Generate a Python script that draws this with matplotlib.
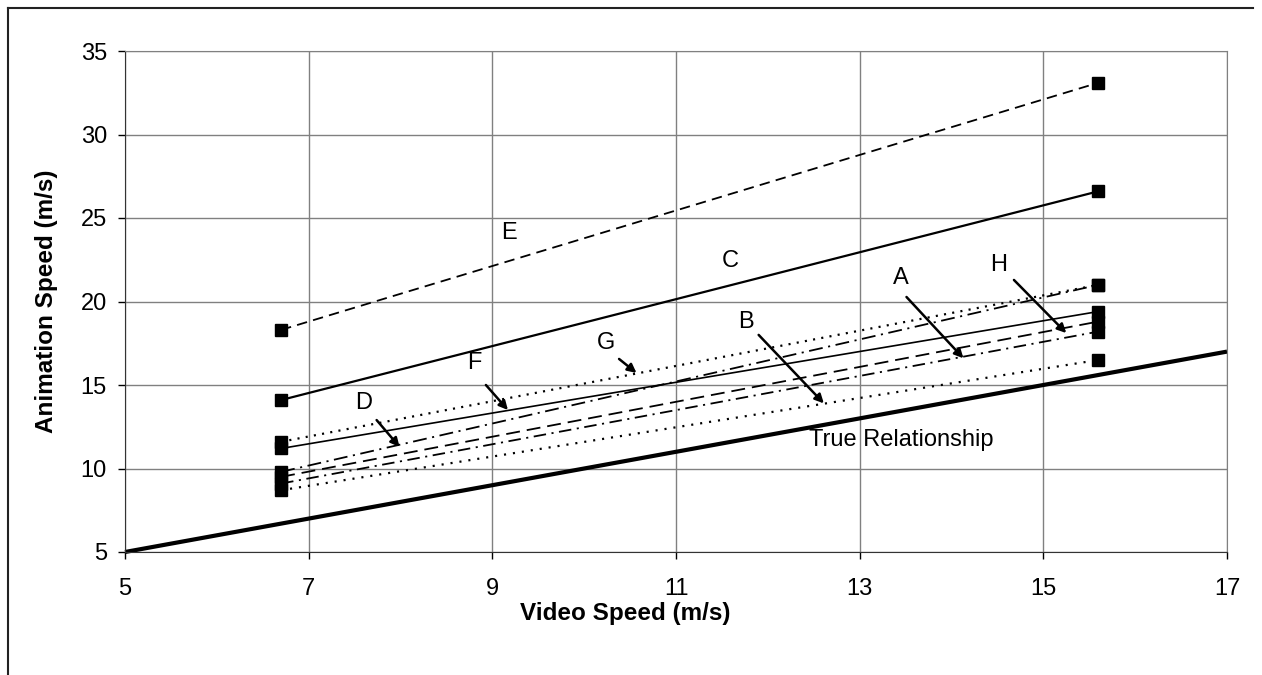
import matplotlib
matplotlib.use('Agg')
import matplotlib.pyplot as plt
from matplotlib.lines import Line2D

# Video speeds of the two test runs (m/s)
video_speed = [6.7, 15.6]

# Animation speed estimated by each participant at the two video speeds
series_names = ['A', 'B', 'C', 'D', 'E', 'F', 'G', 'H']
speed_low = [9.1, 8.7, 14.1, 9.8, 18.3, 11.2, 11.6, 9.5]
speed_high = [18.2, 16.5, 26.6, 21.0, 33.1, 19.4, 21.0, 18.8]

# True relationship, animation = video
true_speed = [5, 17]

x_ticks = [5, 7, 9, 11, 13, 15, 17]
y_ticks = [5, 10, 15, 20, 25, 30, 35]

plt.rcParams['font.family'] = ['Liberation Sans', 'DejaVu Sans']
plt.rcParams['lines.scale_dashes'] = False

# line style for every series (dash patterns in points)
styles = {
    'A': dict(lw=1.3, dashes=(9, 4, 1.5, 4)),
    'B': dict(lw=1.6, dashes=(1.5, 5)),
    'C': dict(lw=1.6, ls='-'),
    'D': dict(lw=1.3, dashes=(10, 4, 1.5, 4)),
    'E': dict(lw=1.3, dashes=(7.5, 4.5)),
    'F': dict(lw=1.2, ls='-'),
    'G': dict(lw=1.6, dashes=(1.5, 4.5)),
    'H': dict(lw=1.3, dashes=(10, 5)),
}

fig = plt.figure(figsize=(12.62, 6.75), dpi=100)
ax = fig.add_axes([125 / 1262, 1 - 552 / 675, 1102 / 1262, 501 / 675])

for i, name in enumerate(series_names):
    ax.plot(video_speed, [speed_low[i], speed_high[i]], color='black',
            marker='s', markersize=8, **styles[name])

ax.plot(true_speed, true_speed, color='black', lw=3, clip_on=False,
        solid_capstyle='butt')

# labels with arrows
ax.text(9.18, 24.1, 'E', fontsize=17, ha='center', va='center')
ax.text(11.59, 22.4, 'C', fontsize=17, ha='center', va='center')
ax.text(13.45, 21.4, 'A', fontsize=17, ha='center', va='center')
ax.text(14.51, 22.2, 'H', fontsize=17, ha='center', va='center')
ax.text(11.76, 18.8, 'B', fontsize=17, ha='center', va='center')
ax.text(10.24, 17.5, 'G', fontsize=17, ha='center', va='center')
ax.text(8.8, 16.3, 'F', fontsize=17, ha='center', va='center')
ax.text(7.6, 13.9, 'D', fontsize=17, ha='center', va='center')
ax.text(12.45, 11.7, 'True Relationship', fontsize=17, ha='left', va='center')

arrows = [
    ((13.51, 20.27), (14.13, 16.6)),
    ((11.9, 18.0), (12.61, 13.9)),
    ((7.74, 12.9), (7.99, 11.29)),
    ((8.93, 15.0), (9.17, 13.5)),
    ((10.38, 16.56), (10.57, 15.72)),
    ((14.68, 21.29), (15.25, 18.11)),
]
for start, end in arrows:
    ax.annotate('', xy=end, xytext=start,
                arrowprops=dict(arrowstyle='-|>', color='black', lw=1.8,
                                mutation_scale=13, shrinkA=0, shrinkB=0))

ax.set_xlim(5, 17)
ax.set_ylim(5, 35)
ax.set_xticks(x_ticks)
ax.set_yticks(y_ticks)
ax.grid(True, color='#808080', lw=1)
ax.set_axisbelow(True)
ax.tick_params(direction='out', length=5, width=1, labelsize=17)
ax.tick_params(axis='x', pad=14)
ax.tick_params(axis='y', pad=8)

for side in ['top', 'right']:
    ax.spines[side].set_color('#808080')
for side in ['left', 'bottom']:
    ax.spines[side].set_color('#333333')

ax.set_xlabel('Video Speed (m/s)', fontsize=17.5, fontweight='bold')
ax.set_ylabel('Animation Speed (m/s)', fontsize=17.5, fontweight='bold')
ax.xaxis.set_label_coords(0.454, -0.1)
ax.yaxis.set_label_coords(-0.061, 0.5)

# outer chart frame (only top and left visible)
fig.add_artist(Line2D([8 / 1262, 1253 / 1262], [1 - 8 / 675, 1 - 8 / 675],
                      color='#222222', lw=1.5))
fig.add_artist(Line2D([8 / 1262, 8 / 1262], [0, 1 - 8 / 675],
                      color='#222222', lw=1.5))

fig.savefig('out.png', dpi=100)
